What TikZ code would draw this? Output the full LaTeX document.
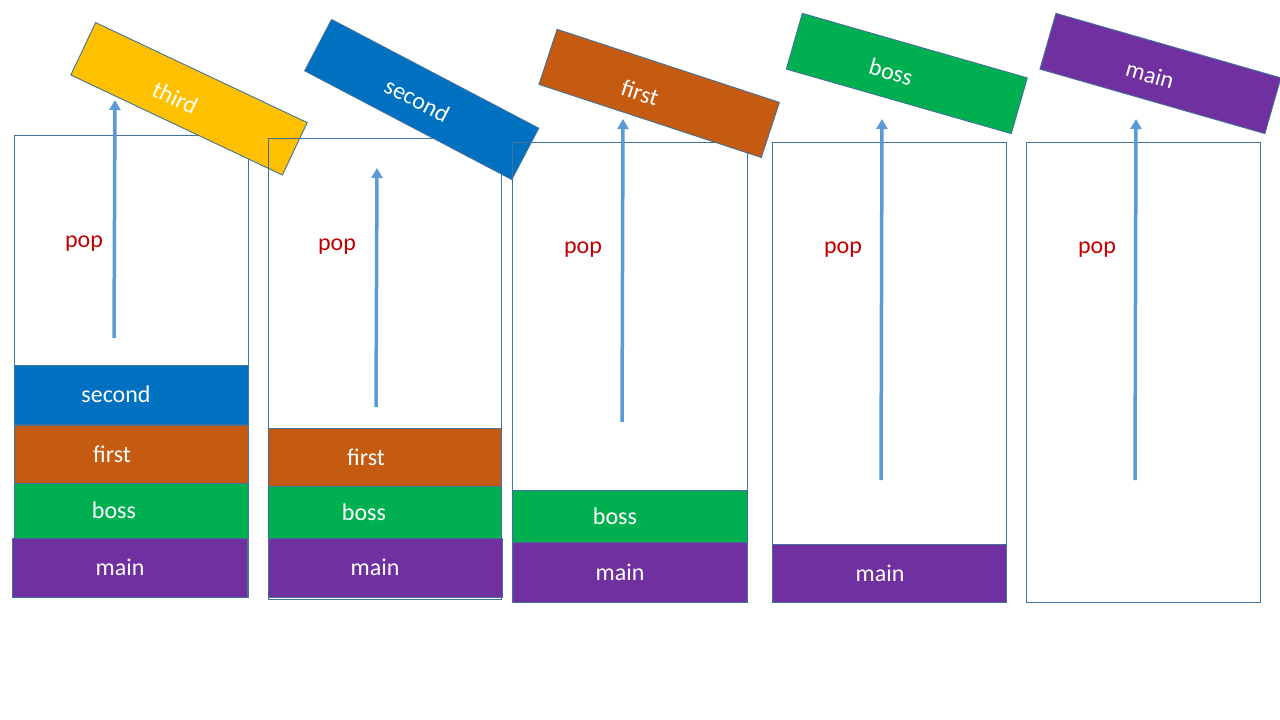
\documentclass[tikz,border=0pt]{standalone}
\usepackage{fontspec}
\setmainfont{Carlito}
\usetikzlibrary{arrows.meta}
\definecolor{edge}{HTML}{41719C}
\definecolor{arr}{HTML}{5B9BD5}
\definecolor{popred}{HTML}{C00000}
\definecolor{cthird}{HTML}{FFC000}
\definecolor{csecond}{HTML}{0070C0}
\definecolor{cfirst}{HTML}{C55A11}
\definecolor{cboss}{HTML}{00B050}
\definecolor{cmain}{HTML}{7030A0}
\newcommand\offtext[3]{\hbox to 234pt{\hfil\raisebox{-#2pt}{#3}\hfil\hskip #1pt}}
\tikzset{
  frame/.style={draw=edge, line width=0.9pt},
  blk/.style={draw=edge, line width=0.9pt},
  lbl/.style={text=white, font=\fontsize{24pt}{28pt}\selectfont, inner sep=0pt, text height=18pt, text depth=2pt},
  poplbl/.style={text=popred, font=\fontsize{24pt}{28pt}\selectfont, inner sep=0pt, text height=18pt, text depth=2pt},
  tilted/.style={draw=edge, line width=0.9pt, text=white, font=\fontsize{24pt}{28pt}\selectfont,
    minimum width=234pt, minimum height=58pt, inner sep=0pt, text height=18pt, text depth=2pt},
  poparrow/.style={draw=arr, line width=3.5pt, -{Triangle[width=11pt,length=10pt]}},
}
\begin{document}
\begin{tikzpicture}[x=1pt,y=-1pt]
\useasboundingbox (0,0) rectangle (1280,720);
\fill[white] (0,0) rectangle (1280,720);
% ---------- column 1 ----------
\draw[frame] (14,135) rectangle (248,597);
\path[blk, fill=csecond] (14,365) rectangle (248,424);
\path[blk, fill=cfirst] (14,425) rectangle (248,483);
\path[blk, fill=cboss] (14,483) rectangle (248,538);
\path[blk, fill=cmain] (12,538) rectangle (247,597);
\node[lbl] (c1s) at (116,394.5) {second};
\node[lbl] (c1f) at (112,454) {first};
\node[lbl] (c1b) at (114,510.5) {boss};
\node[lbl] (c1m) at (120,567.5) {main};
\coordinate (a1s) at (114,338);
\coordinate (a1e) at (115,100);
\draw[poparrow] (a1s) -- (a1e);
\node[poplbl] (p1) at (84,239) {pop};
\node[tilted, fill=cthird, rotate=-25.3] (t3) at (189,98.8) {\offtext{26}{5.3}{third}};
% ---------- column 2 ----------
\draw[frame] (268,138) rectangle (501,599);
\path[blk, fill=cfirst] (268,428) rectangle (501,486);
\path[blk, fill=cboss] (268,486) rectangle (501,538);
\path[blk, fill=cmain] (268,538) rectangle (502,597);
\node[lbl] (c2f) at (366,457) {first};
\node[lbl] (c2b) at (364,512) {boss};
\node[lbl] (c2m) at (375,567.5) {main};
\coordinate (a2s) at (376,407);
\coordinate (a2e) at (377,168);
\draw[poparrow] (a2s) -- (a2e);
\node[poplbl] (p2) at (337,242) {pop};
\node[tilted, fill=csecond, rotate=-27.7] (t2) at (421.7,99.5) {\offtext{7.8}{2.6}{second}};
% ---------- column 3 ----------
\draw[frame] (512,142) rectangle (747,602);
\path[blk, fill=cboss] (512,490) rectangle (747,542);
\path[blk, fill=cmain] (512,542) rectangle (747,602);
\node[lbl] (c3b) at (615,516) {boss};
\node[lbl] (c3m) at (620,572) {main};
\coordinate (a3s) at (622,422);
\coordinate (a3e) at (623,119);
\draw[poparrow] (a3s) -- (a3e);
\node[poplbl] (p3) at (583,245) {pop};
\node[tilted, fill=cfirst, rotate=-18.2] (t1) at (659.2,93.4) {\offtext{36.8}{5.6}{first}};
% ---------- column 4 ----------
\draw[frame] (772,142) rectangle (1006,602);
\path[blk, fill=cmain] (772,544) rectangle (1006,602);
\node[lbl] (c4m) at (880,573) {main};
\coordinate (a4s) at (881,480);
\coordinate (a4e) at (882,119);
\draw[poparrow] (a4s) -- (a4e);
\node[poplbl] (p4) at (843,245) {pop};
\node[tilted, fill=cboss, rotate=-16] (tb) at (906.8,73.5) {\offtext{31.2}{2.9}{boss}};
% ---------- column 5 ----------
\draw[frame] (1026,142) rectangle (1260,602);
\coordinate (a5s) at (1135,480);
\coordinate (a5e) at (1136,119);
\draw[poparrow] (a5s) -- (a5e);
\node[poplbl] (p5) at (1097,245) {pop};
\node[tilted, fill=cmain, rotate=-16] (tm) at (1160.4,73.5) {\offtext{19.2}{4.3}{main}};
\end{tikzpicture}
\end{document}
